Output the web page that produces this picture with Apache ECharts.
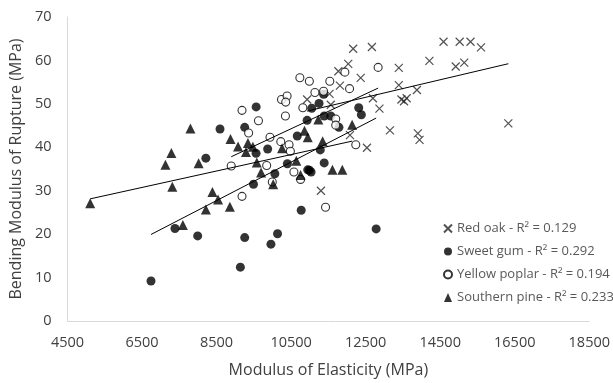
<!DOCTYPE html>
<html>
<head>
<meta charset="utf-8">
<script src="https://cdn.jsdelivr.net/npm/echarts@6/dist/echarts.min.js"></script>
<style>html,body{margin:0;padding:0;background:#fff}#c{width:613px;height:383px}</style>
</head>
<body>
<div id="c"></div>
<script>
// ---- data ----
const seriesNames = ['Red oak', 'Sweet gum', 'Yellow poplar', 'Southern pine'];
const r2Values = ['0.129', '0.292', '0.194', '0.233'];
const xTicks = [4500, 6500, 8500, 10500, 12500, 14500, 16500, 18500];
const yTicks = [0, 10, 20, 30, 40, 50, 60, 70];

const redOakMoe = [12165,12668,12033,11768,12367,11810,11531,10930,11565,12695,12870,13390,13390,14211,14590,13875,13460,13600,13530,13152,13901,13946,12080,12535,11300,15023,15314,15595,14917,15145,16328];
const redOakMor = [62.7,63.1,59.2,57.5,56.0,54.2,52.3,51.0,49.8,51.3,48.9,58.3,54.3,59.9,64.3,53.2,51.0,51.3,50.6,43.9,43.2,41.7,42.8,39.9,30.0,64.3,64.3,63.0,58.6,59.5,45.5];

const sweetGumMoe = [6741,7384,7993,9255,9139,9491,10771,10136,9959,12782,11388,10064,10400,10990,9562,8593,9255,8213,9560,9871,10665,11371,11250,11054,10930,11388,11565,12314,12385,11784,11282,10946,11036];
const sweetGumMor = [9.2,21.3,19.6,19.2,12.4,31.5,25.5,20.1,17.7,21.2,36.4,33.9,36.2,34.7,49.3,44.2,44.6,37.5,38.6,39.6,42.6,52.2,50.1,49.0,46.2,47.2,47.2,49.1,47.5,44.6,39.4,34.8,34.3];

const poplarMoe = [9183,9624,9360,8893,9183,9845,10575,10754,9995,11424,10735,10990,11538,11943,12835,12068,11139,11371,10242,10392,10355,10815,10348,9933,10223,10445,10480,11697,11697,12235];
const poplarMor = [48.5,46.1,43.3,35.7,28.7,35.8,34.3,32.6,32.0,26.2,56.0,55.2,55.2,57.3,58.4,53.5,52.6,52.9,51.0,51.8,50.4,49.1,47.2,42.3,41.3,40.6,39.1,46.5,45.1,40.6];

const pineMoe = [7799,7287,8874,9077,9289,9342,9474,7129,8019,9580,5109,7313,8390,8540,8213,8857,7596,9694,10257,10020,10639,11230,10859,10947,12138,11345,11609,11874,10754];
const pineMor = [44.3,38.7,41.9,40.2,38.9,41.0,40.1,36.0,36.3,36.5,27.1,30.9,29.7,28.0,25.7,26.3,22.1,34.2,39.8,31.5,36.9,46.4,43.8,42.3,45.2,41.4,34.8,34.8,33.6];

// ---- build ----
const moe = [redOakMoe, sweetGumMoe, poplarMoe, pineMoe];
const mor = [redOakMor, sweetGumMor, poplarMor, pineMor];
function pairs(xs, ys) { return xs.map((x, i) => [x, ys[i]]); }
function trend(xs, ys) {
  const n = xs.length;
  const mx = xs.reduce((a, b) => a + b, 0) / n;
  const my = ys.reduce((a, b) => a + b, 0) / n;
  let sxy = 0, sxx = 0;
  for (let i = 0; i < n; i++) { sxy += (xs[i] - mx) * (ys[i] - my); sxx += (xs[i] - mx) * (xs[i] - mx); }
  const b = sxy / sxx, a = my - b * mx;
  const x0 = Math.min(...xs), x1 = Math.max(...xs);
  return [[x0, a + b * x0], [x1, a + b * x1]];
}

const symbols = ['path://M0,0L10,10M10,0L0,10', 'circle', 'circle', 'triangle'];
const sizes = [8, 9, 8, 10];
const styles = [
  { color: 'rgba(0,0,0,0)', borderColor: '#262626', borderWidth: 1.2 },
  { color: '#000000' },
  { color: '#ffffff', borderColor: '#000000', borderWidth: 1.1 },
  { color: '#000000' }
];

const series = [];
seriesNames.forEach((name, i) => {
  series.push({
    name: name, type: 'scatter', data: pairs(moe[i], mor[i]),
    symbol: symbols[i], symbolSize: sizes[i], itemStyle: styles[i],
    z: 3
  });
});
seriesNames.forEach((name, i) => {
  series.push({
    name: name + ' trend', type: 'line', data: trend(moe[i], mor[i]),
    symbol: 'none', silent: true, z: 4,
    lineStyle: { color: '#000000', width: 1 }
  });
});

const chart = echarts.init(document.getElementById('c'), null, { renderer: 'canvas' });
const font = 'Open Sans';
chart.setOption({
  animation: false,
  backgroundColor: '#ffffff',
  grid: { left: 63, right: 21, top: 17, bottom: 59.5 },
  xAxis: {
    type: 'value', min: xTicks[0], max: xTicks[xTicks.length - 1], interval: 2000,
    name: 'Modulus of Elasticity (MPa)', nameLocation: 'middle', nameGap: 41,
    nameTextStyle: { fontFamily: font, fontSize: 16, color: '#404040' },
    axisLine: { lineStyle: { color: '#d9d9d9', width: 1 } },
    axisTick: { show: false },
    splitLine: { show: false },
    axisLabel: { fontFamily: font, fontSize: 14.5, color: '#404040', margin: 14,
      formatter: function (v) { return String(v); } }
  },
  yAxis: {
    type: 'value', min: yTicks[0], max: yTicks[yTicks.length - 1], interval: 10,
    name: 'Bending Modulus of Rupture (MPa)', nameLocation: 'middle', nameGap: 42,
    nameTextStyle: { fontFamily: font, fontSize: 16, color: '#404040' },
    axisLine: { show: true, lineStyle: { color: '#d9d9d9', width: 1 } },
    axisTick: { show: false },
    splitLine: { show: false },
    axisLabel: { fontFamily: font, fontSize: 14.5, color: '#404040', margin: 16,
      formatter: function (v) { return String(v); } }
  },
  legend: {
    data: seriesNames,
    orient: 'vertical', left: 438, top: 217,
    itemWidth: 8, itemHeight: 9, itemGap: 10,
    formatter: function (name) { return name + ' - R\u00b2 = ' + r2Values[seriesNames.indexOf(name)]; },
    textStyle: { fontFamily: font, fontSize: 13, color: '#595959' }
  },
  series: series
});
</script>
</body>
</html>
